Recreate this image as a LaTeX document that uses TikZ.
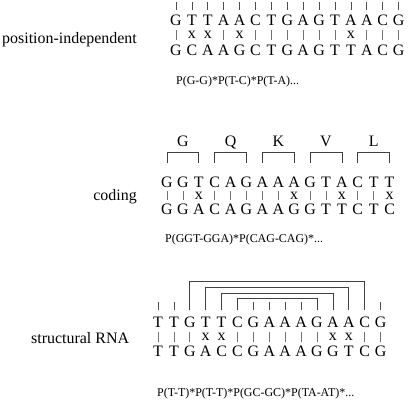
\documentclass[tikz,border=0pt]{standalone}
\usepackage{fontspec}
\setmainfont{Liberation Serif}
\usetikzlibrary{calc}
\begin{document}
\begin{tikzpicture}[x=1bp,y=-1bp,
  nt/.style={inner sep=0pt, text height=11bp, text depth=0pt, anchor=south, font=\fontsize{16}{16}\selectfont},
  lab/.style={inner sep=0pt, font=\fontsize{16}{16}\selectfont},
  formula/.style={inner sep=0pt, anchor=base west, font=\fontsize{12}{12}\selectfont},
  mis/.style={inner sep=0pt, font=\fontsize{16}{16}\selectfont},
  bar/.style={draw=black!55, line width=0.7bp},
  tick/.style={draw=black!70, line width=0.7bp},
  brk/.style={draw=black!75, line width=0.8bp}
]
\useasboundingbox (0,0) rectangle (408,403);
\fill[white] (0,0) rectangle (408,403);

% ---------- position-independent ----------
\node[lab, anchor=base east] (l1) at (137,43) {position-independent};
\foreach \c [count=\i] in {G,T,T,A,A,C,T,G,A,G,T,A,A,C,G}
  \node[nt] (ta\i) at ({176+15.9*(\i-1)},26) {\c};
\foreach \c [count=\i] in {G,C,A,A,G,C,T,G,A,G,T,T,A,C,G}
  \node[nt] (ba\i) at ({176+15.9*(\i-1)},56) {\c};
\foreach \i in {1,...,15}
  \draw[tick] (ta\i.north) ++(0,-5) -- ++(0,-8);
\foreach \m [count=\i] in {0,1,1,0,1,0,0,0,0,0,0,1,0,0,0} {
  \ifnum\m=1
    \node[mis] (xa\i) at ($(ta\i)!0.5!(ba\i)$) {x};
  \else
    \draw[bar, shorten <=4bp, shorten >=5bp] (ta\i) -- (ba\i);
  \fi
}
\node[formula] (fa) at (176,84) {P(G-G)*P(T-C)*P(T-A)...};

% ---------- coding ----------
\node[lab, anchor=base east] (l2) at (137,200) {coding};
\foreach \c [count=\i] in {G,G,T,C,A,G,A,A,A,G,T,A,C,T,T}
  \node[nt] (tb\i) at ({167+15.9*(\i-1)},188) {\c};
\foreach \c [count=\i] in {G,G,A,C,A,G,A,A,G,G,T,T,C,T,C}
  \node[nt] (bb\i) at ({167+15.9*(\i-1)},215) {\c};
\foreach \m [count=\i] in {0,0,1,0,0,0,0,0,1,0,0,1,0,0,1} {
  \ifnum\m=1
    \node[mis] (xb\i) at ($(tb\i)!0.5!(bb\i)$) {x};
  \else
    \draw[bar, shorten <=3bp, shorten >=4bp] (tb\i) -- (bb\i);
  \fi
}
\foreach \a/\b/\m/\aa in {1/3/2/G, 4/6/5/Q, 7/9/8/K, 10/12/11/V, 13/15/14/L} {
  \draw[brk] ($(tb\a.north)+(0,-14)$) |- ($(tb\b.north)+(0,-24)$) -- ($(tb\b.north)+(0,-14)$);
  \node[lab, anchor=base] (aa\m) at ($(tb\m.north)+(0,-30)$) {\aa};
}
\node[formula] (fb) at (165,242) {P(GGT-GGA)*P(CAG-CAG)*...};

% ---------- structural RNA ----------
\node[lab, anchor=base west] (l3) at (31,343) {structural RNA};
\foreach \c [count=\i] in {T,T,G,T,T,C,G,A,A,A,G,A,A,C,G}
  \node[nt] (tc\i) at ({158+15.9*(\i-1)},328) {\c};
\foreach \c [count=\i] in {T,T,G,A,C,C,G,A,A,A,G,G,T,C,G}
  \node[nt] (bc\i) at ({158+15.9*(\i-1)},357) {\c};
\foreach \m [count=\i] in {0,0,0,1,1,0,0,0,0,0,0,1,1,0,0} {
  \ifnum\m=1
    \node[mis] (xc\i) at ($(tc\i)!0.5!(bc\i)$) {x};
  \else
    \draw[bar, shorten <=4bp, shorten >=4bp] (tc\i) -- (bc\i);
  \fi
}
\foreach \i in {1,2,7,8,9,10,15}
  \draw[tick] (tc\i.north) ++(0,-7) -- ++(0,-8);
\foreach \a/\b/\h in {3/14/35, 4/13/29, 5/12/23, 6/11/18}
  \draw[brk] ($(tc\a.north)+(0,-7)$) |- ($(tc\b.north)+(0,-\h)$) -- ($(tc\b.north)+(0,-7)$);
\node[formula] (fc) at (157,396) {P(T-T)*P(T-T)*P(GC-GC)*P(TA-AT)*...};
\end{tikzpicture}
\end{document}
